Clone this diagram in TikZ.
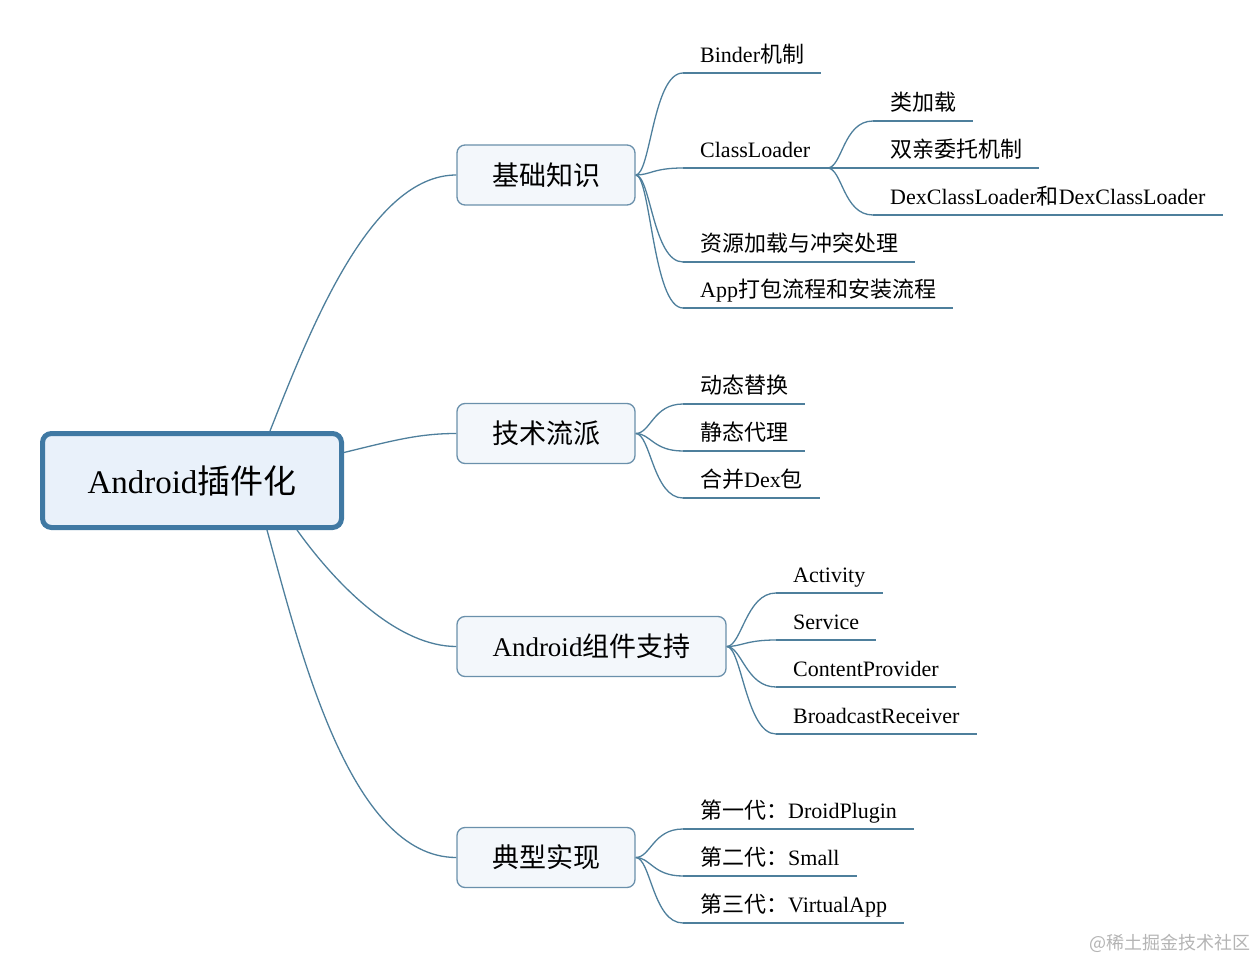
\documentclass[tikz,border=0pt]{standalone}
\usepackage{fontspec}
\setmainfont{Liberation Serif}
\newfontfamily\cjk{Noto Sans CJK SC}
\newcommand\zh[1]{{\cjk #1}}
\usetikzlibrary{backgrounds}
\definecolor{linec}{HTML}{4E7F9C}
\definecolor{rootb}{HTML}{4079A3}
\definecolor{rootf}{HTML}{E9F1FA}
\definecolor{brb}{HTML}{6A90AB}
\definecolor{brf}{HTML}{F3F7FB}
\definecolor{wm}{HTML}{B4B4B4}
\tikzset{
  rootnode/.style={draw=rootb, line width=5pt, fill=rootf, rounded corners=9pt,
    minimum width=299pt, minimum height=94pt, inner sep=0pt,
    font=\fontsize{33}{38}\selectfont},
  branch/.style={draw=brb, line width=1.3pt, fill=brf, rounded corners=8pt,
    minimum width=178pt, minimum height=60pt, inner xsep=35pt, inner ysep=0pt,
    font=\fontsize{27}{32}\selectfont},
  leaf/.style={anchor=south west, inner xsep=17pt, inner ysep=4pt,
    text height=17pt, text depth=6pt, font=\fontsize{22}{26}\selectfont},
  conn/.style={draw=linec, line width=1.3pt},
  uline/.style={draw=linec, line width=1.5pt},
  wmark/.style={anchor=east, text=wm, inner sep=0pt, font=\cjk\fontsize{18}{21}\selectfont}
}
\begin{document}
\begin{tikzpicture}[x=1pt,y=-1pt]
\useasboundingbox (0,0) rectangle (1256,960);
% root and branches
\node[rootnode] (root) at (192,480.5) {Android\zh{插件化}};
\node[branch] (j) at (546,175) {\zh{基础知识}};
\node[branch] (k) at (546,433.5) {\zh{技术流派}};
\node[branch, minimum width=269pt] (a) at (591.5,646.5) {Android\zh{组件支持}};
\node[branch] (d) at (546,857.5) {\zh{典型实现}};
% leaves of 基础知识
\node[leaf] (b1) at (683,73) {Binder\zh{机制}};
\node[leaf] (b2) at (683,168) {ClassLoader};
\node[leaf] (b3) at (683,262) {\zh{资源加载与冲突处理}};
\node[leaf] (b4) at (683,308) {App\zh{打包流程和安装流程}};
\node[leaf] (c1) at (873,121) {\zh{类加载}};
\node[leaf] (c2) at (873,168) {\zh{双亲委托机制}};
\node[leaf] (c3) at (873,215) {DexClassLoader\zh{和}DexClassLoader};
% leaves of 技术流派
\node[leaf] (t1) at (683,404) {\zh{动态替换}};
\node[leaf] (t2) at (683,451) {\zh{静态代理}};
\node[leaf] (t3) at (683,498) {\zh{合并}Dex\zh{包}};
% leaves of Android组件支持
\node[leaf] (a1) at (776,593) {Activity};
\node[leaf] (a2) at (776,640) {Service};
\node[leaf] (a3) at (776,687) {ContentProvider};
\node[leaf] (a4) at (776,734) {BroadcastReceiver};
% leaves of 典型实现
\node[leaf] (d1) at (683,829) {\zh{第一代：}DroidPlugin};
\node[leaf] (d2) at (683,876) {\zh{第二代：}Small};
\node[leaf] (d3) at (683,923) {\zh{第三代：}VirtualApp};
% watermark
\node[wmark] (wmk) at (1251,943) {@稀土掘金技术社区};
\begin{pgfonlayer}{background}
\draw[conn] ([xshift=78pt]root.north) .. controls (310,330) and (370,175) .. (j.west);
\draw[conn] ([yshift=28pt]root.east) .. controls (395,440) and (420,433.5) .. (k.west);
\draw[conn] ([xshift=105pt]root.south) .. controls (340,590) and (400,646.5) .. (a.west);
\draw[conn] ([xshift=75pt]root.south) .. controls (300,650) and (350,857.5) .. (d.west);
\foreach \p/\c in {j/b1,j/b2,j/b3,j/b4,k/t1,k/t2,k/t3,a/a1,a/a2,a/a3,a/a4,d/d1,d/d2,d/d3}
  \draw[conn] (\p.east) .. controls +(15,0) and +(-30,0) .. (\c.south west);
\foreach \c in {c1,c2,c3}
  \draw[conn] (b2.south east) .. controls +(15,0) and +(-30,0) .. (\c.south west);
\foreach \n in {b1,b2,b3,b4,c1,c2,c3,t1,t2,t3,a1,a2,a3,a4,d1,d2,d3}
  \draw[uline] (\n.south west) -- (\n.south east);
\end{pgfonlayer}
\end{tikzpicture}
\end{document}
